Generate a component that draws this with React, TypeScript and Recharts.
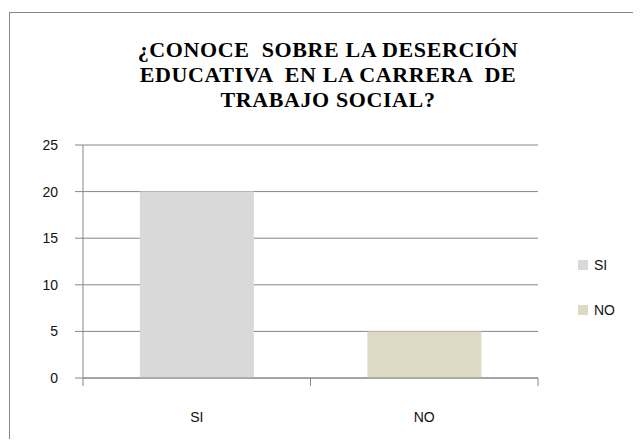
import React from 'react';
import { BarChart, Bar, XAxis, YAxis, CartesianGrid, Legend } from 'recharts';

// categories and values
const categories = ['SI', 'NO'];
const values = [20, 5];
const colors = ['#d9d9d9', '#ddd9c3'];
const yTicks = [0, 5, 10, 15, 20, 25];
const titleLines = ['¿CONOCE  SOBRE LA DESERCIÓN', 'EDUCATIVA  EN LA CARRERA  DE', 'TRABAJO SOCIAL?'];

// one row per category, each with its own key so every bar gets its own legend entry
const data = categories.map((name, i) => ({ name, [name]: values[i] }));

const axisColor = '#868686';
const labelFont = '"Liberation Sans", Arial, sans-serif';

const CategoryTick = (props: any) => {
  const { x, y, payload, index } = props;
  const half = payload?.offset ?? 113.75;
  return (
    <g>
      <line x1={x - half} y1={y} x2={x - half} y2={y + 8} stroke={axisColor} />
      {index === categories.length - 1 && (
        <line x1={x + half} y1={y} x2={x + half} y2={y + 8} stroke={axisColor} />
      )}
      <text x={x} y={y + 40} textAnchor="middle" dominantBaseline="middle" fontSize={14} fontFamily={labelFont} fill="#111">
        {payload.value}
      </text>
    </g>
  );
};

const LegendBox = (props: any) => {
  const items = [...(props.payload || [])].sort(
    (a: any, b: any) => categories.indexOf(a.value) - categories.indexOf(b.value)
  );
  return (
    <div style={{ fontFamily: labelFont, fontSize: 14, color: '#111' }}>
      {items.map((it: any) => (
        <div key={it.value} style={{ display: 'flex', alignItems: 'center', height: 20, marginBottom: 25 }}>
          <span style={{ width: 10, height: 10, background: it.color, display: 'inline-block', marginRight: 6 }} />
          {it.value}
        </div>
      ))}
    </div>
  );
};

export default function App() {
  return (
    <div style={{ position: 'relative', width: 641, height: 447, margin: -8, overflow: 'hidden', background: '#fff' }}>
      <div
        style={{
          position: 'absolute',
          left: 9,
          top: 12,
          width: 640,
          height: 440,
          borderLeft: `1px solid ${axisColor}`,
          borderTop: `1px solid ${axisColor}`,
        }}
      />
      <div
        style={{
          position: 'absolute',
          left: 1,
          width: 654,
          top: 37,
          textAlign: 'center',
          fontFamily: '"Liberation Serif", "Times New Roman", serif',
          fontWeight: 'bold',
          fontSize: 22,
          letterSpacing: 0.6,
          lineHeight: '25px',
          color: '#000',
          whiteSpace: 'pre',
        }}
      >
        {titleLines.map((l) => (
          <div key={l}>{l}</div>
        ))}
      </div>
      <div style={{ position: 'absolute', left: 0, top: 0 }}>
        <BarChart
          width={641}
          height={447}
          data={data}
          margin={{ top: 145, right: 103, bottom: 0, left: 20 }}
          barCategoryGap="25%"
        >
          <CartesianGrid vertical={false} stroke={axisColor} />
          <YAxis
            width={63}
            domain={[0, 25]}
            ticks={yTicks}
            interval={0}
            tickSize={8}
            tickMargin={17}
            axisLine={{ stroke: axisColor }}
            tickLine={{ stroke: axisColor }}
            tick={{ fontSize: 14, fontFamily: labelFont, fill: '#111' }}
          />
          <XAxis
            dataKey="name"
            height={69}
            tickSize={0}
            tickMargin={0}
            axisLine={{ stroke: axisColor }}
            tickLine={false}
            tick={<CategoryTick />}
            interval={0}
          />
          <Legend
            align="center"
            verticalAlign="middle"
            content={<LegendBox />}
            wrapperStyle={{ left: 578, top: 255, width: 60 }}
          />
          {categories.map((c, i) => (
            <Bar key={c} dataKey={c} stackId="a" fill={colors[i]} isAnimationActive={false} />
          ))}
        </BarChart>
      </div>
    </div>
  );
}
